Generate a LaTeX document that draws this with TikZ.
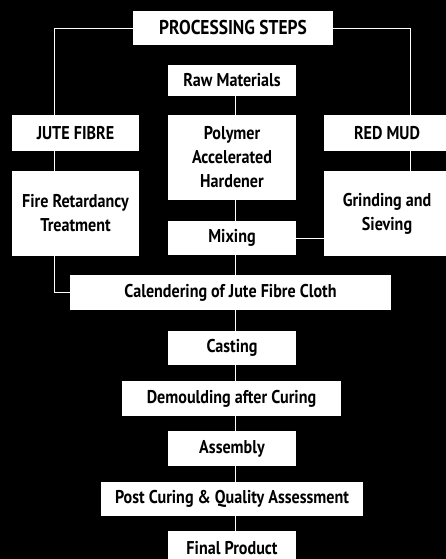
\documentclass[tikz,border=0pt]{standalone}
\usepackage{fontspec}
\setmainfont[FakeStretch=0.87]{PT Sans}
\begin{document}
\begin{tikzpicture}[x=1pt,y=-1pt,
  box/.style={rectangle, fill=white, draw=none, inner sep=0pt, align=center,
    font=\bfseries\fontsize{18.5}{24}\selectfont, text=black},
  conn/.style={draw=white, line width=0.9pt}]
\fill[black] (0,0) rectangle (446,559);
\useasboundingbox (0,0) rectangle (446,559);
\coordinate (lx) at (54,0);
\coordinate (rx) at (410,0);
\coordinate (cx) at (235,0);
\node[box, minimum width=200, minimum height=34, font=\bfseries\fontsize{20}{24}\selectfont] (ps) at (233,28) {PROCESSING STEPS};
\node[box, minimum width=128, minimum height=31] (raw) at (232,80.5) {Raw Materials};
\node[box, minimum width=127, minimum height=36] (jute) at (75.5,133) {JUTE FIBRE};
\node[box, minimum width=128, minimum height=85] (poly) at (232,157.5) {Polymer\\Accelerated\\Hardener};
\node[box, minimum width=126, minimum height=36] (red) at (387,133) {RED MUD};
\node[box, minimum width=127, minimum height=85] (fire) at (75.5,213.5) {Fire Retardancy\\Treatment};
\node[box, minimum width=126, minimum height=85] (grind) at (387,213.5) {Grinding and\\Sieving};
\node[box, minimum width=128, minimum height=34] (mix) at (232,238) {Mixing};
\node[box, minimum width=321, minimum height=35] (cal) at (230.5,292.5) {Calendering of Jute Fibre Cloth};
\node[box, minimum width=128, minimum height=34] (cast) at (232,348) {Casting};
\node[box, minimum width=219, minimum height=35] (demo) at (231.5,398.5) {Demoulding after Curing};
\node[box, minimum width=128, minimum height=35] (asm) at (232,448.5) {Assembly};
\node[box, minimum width=262, minimum height=34] (post) at (232,499) {Post Curing \& Quality Assessment};
\node[box, minimum width=128, minimum height=34] (final) at (232,548) {Final Product};
\draw[conn] (ps.west) -| (jute.north -| lx);
\draw[conn] (ps.east) -| (red.north -| rx);
\draw[conn] (raw.south -| cx) -- (poly.north -| cx);
\draw[conn] (jute.south -| lx) -- (fire.north -| lx);
\draw[conn] (red.south -| rx) -- (grind.north -| rx);
\draw[conn] (poly.south -| cx) -- (mix.north -| cx);
\draw[conn] (mix.east) -- (grind.west |- mix.east);
\draw[conn] (fire.south -| lx) |- (cal.west);
\draw[conn] (mix.south -| cx) -- (cal.north -| cx);
\draw[conn] (cal.south -| cx) -- (cast.north -| cx);
\draw[conn] (cast.south -| cx) -- (demo.north -| cx);
\draw[conn] (demo.south -| cx) -- (asm.north -| cx);
\draw[conn] (asm.south -| cx) -- (post.north -| cx);
\draw[conn] (post.south -| cx) -- (final.north -| cx);
\end{tikzpicture}
\end{document}
